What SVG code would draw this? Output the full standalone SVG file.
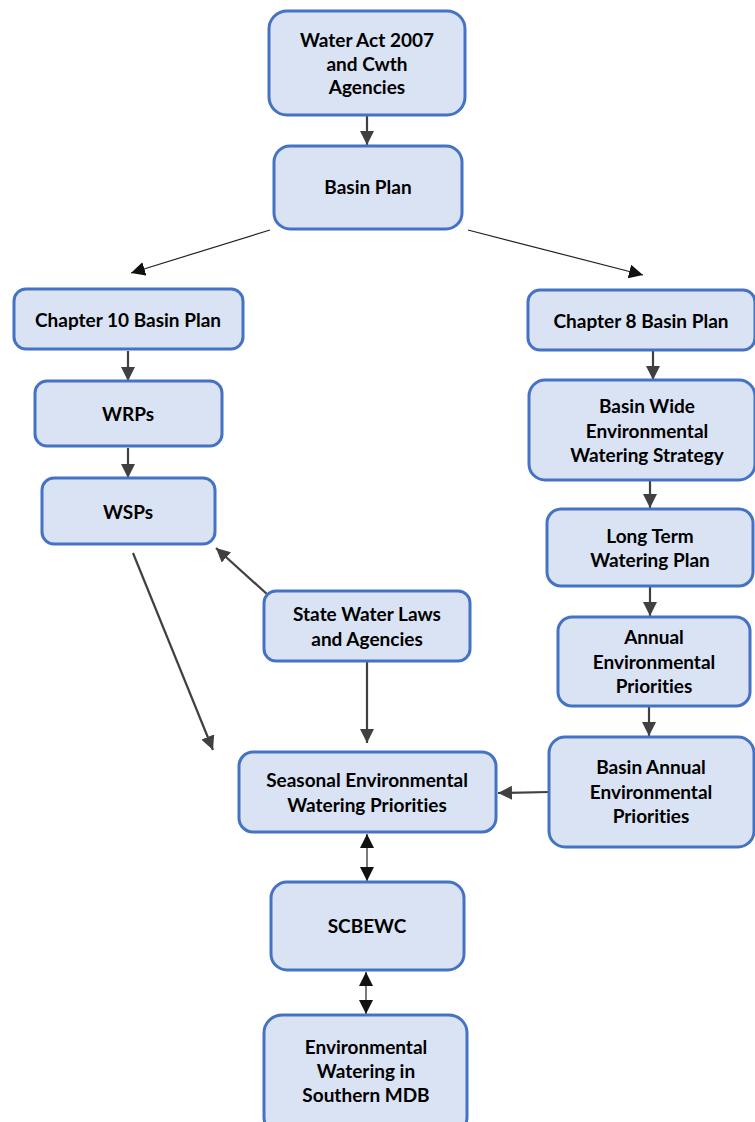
<svg xmlns="http://www.w3.org/2000/svg" width="755" height="1122" viewBox="0 0 755 1122">
<style>
.box{fill:#dae3f3;stroke:#4472c4;stroke-width:3}
.t{font-family:Lato,"Open Sans","Liberation Sans",sans-serif;font-weight:bold;font-size:19px;fill:#000;text-anchor:middle;font-variant-ligatures:none}
.c{stroke:#404040;stroke-width:2.2;fill:none}
.cth{stroke:#222;stroke-width:1.2;fill:none}
</style>
<defs>
<marker id="ahb" viewBox="0 0 10 10" refX="10" refY="5" markerWidth="14" markerHeight="14" markerUnits="userSpaceOnUse" orient="auto-start-reverse"><path d="M0,0 L10,5 L0,10 z" fill="#404040"/></marker>
<marker id="ahk" viewBox="0 0 10 10" refX="10" refY="5" markerWidth="14" markerHeight="14" markerUnits="userSpaceOnUse" orient="auto-start-reverse"><path d="M0,0 L10,5 L0,10 z" fill="#111"/></marker>
</defs>
<rect width="755" height="1122" fill="#fff"/>
<g id="connectors">
<line class="c" x1="367" y1="116" x2="367" y2="145" marker-end="url(#ahb)"/>
<line class="cth" x1="270" y1="230" x2="131" y2="273" marker-end="url(#ahk)"/>
<line class="cth" x1="468" y1="230" x2="643" y2="275" marker-end="url(#ahk)"/>
<line class="c" x1="128" y1="351" x2="128" y2="381" marker-end="url(#ahb)"/>
<line class="c" x1="128" y1="448" x2="128" y2="478" marker-end="url(#ahb)"/>
<line class="c" x1="133" y1="553" x2="213" y2="750" marker-end="url(#ahb)"/>
<line class="c" x1="268" y1="595" x2="216" y2="548" marker-end="url(#ahb)"/>
<line class="c" x1="367" y1="662" x2="367" y2="743" marker-end="url(#ahb)"/>
<line class="c" x1="653" y1="351" x2="653" y2="380" marker-end="url(#ahb)"/>
<line class="c" x1="650" y1="481" x2="650" y2="508" marker-end="url(#ahb)"/>
<line class="c" x1="650" y1="587" x2="650" y2="616" marker-end="url(#ahb)"/>
<line class="c" x1="649" y1="707" x2="649" y2="736" marker-end="url(#ahb)"/>
<line class="c" x1="549" y1="792" x2="498" y2="793" marker-end="url(#ahb)"/>
<line class="cth" x1="367" y1="834" x2="367" y2="881" marker-start="url(#ahk)" marker-end="url(#ahk)"/>
<line class="cth" x1="366" y1="972" x2="366" y2="1014" marker-start="url(#ahk)" marker-end="url(#ahk)"/>
</g>
<g id="n-wateract"><rect class="box" x="269" y="11" width="196" height="104" rx="18"/><text class="t" x="367" y="47">Water Act 2007</text><text class="t" x="367" y="71">and Cwth</text><text class="t" x="367" y="94">Agencies</text></g>
<g id="n-basinplan"><rect class="box" x="274" y="146" width="188" height="83" rx="16"/><text class="t" x="368" y="194">Basin Plan</text></g>
<g id="n-ch10"><rect class="box" x="14" y="289" width="229" height="60" rx="12"/><text class="t" x="128" y="327">Chapter 10 Basin Plan</text></g>
<g id="n-wrps"><rect class="box" x="35" y="381" width="187" height="65" rx="12"/><text class="t" x="128" y="421">WRPs</text></g>
<g id="n-wsps"><rect class="box" x="42" y="478" width="173" height="66" rx="12"/><text class="t" x="128" y="519">WSPs</text></g>
<g id="n-ch8"><rect class="box" x="528" y="290" width="227" height="60" rx="12"/><text class="t" x="641" y="328">Chapter 8 Basin Plan</text></g>
<g id="n-bwews"><rect class="box" x="529" y="380" width="226" height="100" rx="16"/><text class="t" x="647" y="413">Basin Wide</text><text class="t" x="647" y="438">Environmental</text><text class="t" x="647" y="462">Watering Strategy</text></g>
<g id="n-ltwp"><rect class="box" x="547" y="509" width="206" height="77" rx="14"/><text class="t" x="650" y="543">Long Term</text><text class="t" x="650" y="567">Watering Plan</text></g>
<g id="n-state"><rect class="box" x="264" y="591" width="206" height="70" rx="12"/><text class="t" x="367" y="621">State Water Laws</text><text class="t" x="367" y="646">and Agencies</text></g>
<g id="n-aep"><rect class="box" x="558" y="617" width="192" height="89" rx="14"/><text class="t" x="654" y="644">Annual</text><text class="t" x="654" y="669">Environmental</text><text class="t" x="654" y="693">Priorities</text></g>
<g id="n-sewp"><rect class="box" x="239" y="752" width="257" height="80" rx="14"/><text class="t" x="367" y="787">Seasonal Environmental</text><text class="t" x="367" y="812">Watering Priorities</text></g>
<g id="n-baep"><rect class="box" x="549" y="737" width="205" height="110" rx="16"/><text class="t" x="651" y="774">Basin Annual</text><text class="t" x="651" y="799">Environmental</text><text class="t" x="651" y="823">Priorities</text></g>
<g id="n-scbewc"><rect class="box" x="271" y="882" width="193" height="88" rx="16"/><text class="t" x="367" y="933">SCBEWC</text></g>
<g id="n-ewsm"><rect class="box" x="264" y="1015" width="203" height="120" rx="18"/><text class="t" x="366" y="1054">Environmental</text><text class="t" x="366" y="1078">Watering in</text><text class="t" x="366" y="1102">Southern MDB</text></g>
</svg>
